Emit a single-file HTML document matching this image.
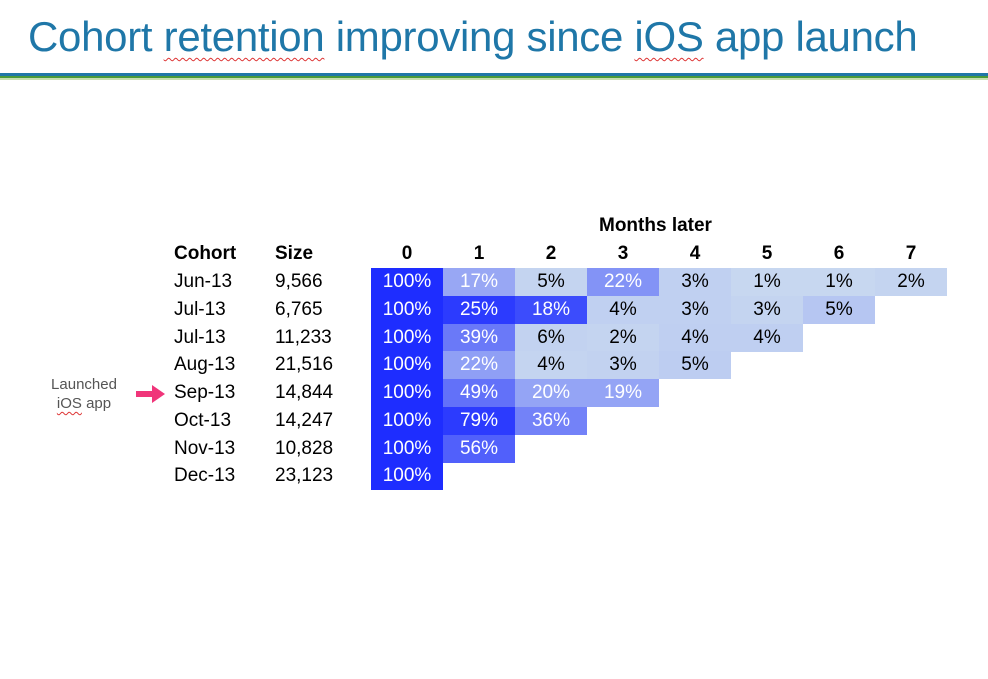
<!DOCTYPE html>
<html><head><meta charset="utf-8"><style>
body{margin:0;width:988px;height:679px;background:#fff;position:relative;overflow:hidden;font-family:"Liberation Sans",sans-serif}
#title{position:absolute;left:28px;top:13px;font-size:42px;color:#1f77a8;letter-spacing:-0.3px;white-space:nowrap}
.u{text-decoration:underline wavy #d33;text-decoration-thickness:1px;text-underline-offset:6px}
.t{position:absolute;font-size:19px;color:#000;white-space:nowrap}
.b{font-weight:bold}
.cell{position:absolute;height:28px;line-height:28px;text-align:center;font-size:19px}
</style></head><body>
<div id="title">Cohort <span class="u">retention</span> improving since <span class="u">iOS</span> app launch</div>
<div style="position:absolute;left:0;top:73px;width:988px;height:3px;background:#1f77a8"></div>
<div style="position:absolute;left:0;top:76px;width:988px;height:2px;background:#4a9a3a"></div>
<div style="position:absolute;left:0;top:78px;width:988px;height:2px;background:#c6dfb0"></div>
<div style="position:absolute;left:44px;top:375px;width:80px;text-align:center;font-size:15px;color:#555;line-height:19px">Launched<br><span class="u" style="text-underline-offset:3px">iOS</span> app</div>
<svg style="position:absolute;left:136px;top:384px" width="30" height="20"><path d="M0 7h16V1l13 9-13 9v-6H0z" fill="#f0357a"/></svg>
<div id="chart"></div>
<script>
const cohorts=["Jun-13","Jul-13","Jul-13","Aug-13","Sep-13","Oct-13","Nov-13","Dec-13"];
const sizes=["9,566","6,765","11,233","21,516","14,844","14,247","10,828","23,123"];
const months=[0,1,2,3,4,5,6,7];
const retention=[
[100,17,5,22,3,1,1,2],
[100,25,18,4,3,3,5],
[100,39,6,2,4,4],
[100,22,4,3,5],
[100,49,20,19],
[100,79,36],
[100,56],
[100]];
const shade=[
[1,0.28,0.02,0.4,0.04,0.0,0.0,0.02],
[1,0.92,0.82,0.04,0.04,0.02,0.1],
[1,0.55,0.03,0.02,0.05,0.05],
[1,0.33,0.02,0.03,0.06],
[1,0.6,0.3,0.3],
[1,0.92,0.5],
[1,0.7],
[1]];
const c=document.getElementById('chart');
const x0=371,cw=72,y0=268,rh=27.75;
const xPos=i=>x0+i*cw, yPos=r=>y0+r*rh;
function mk(cls,txt,l,t,extra){const d=document.createElement('div');d.className=cls;d.textContent=txt;d.style.left=l+'px';d.style.top=t+'px';if(extra)Object.assign(d.style,extra);c.appendChild(d);return d;}
let d=mk('t b','Months later',599,215);


d=mk('t b','Cohort',174,243);


d=mk('t b','Size',275,243);


months.forEach(m=>{const e=mk('t b',String(m),xPos(m),243,{width:cw+'px',textAlign:'center'});

});
cohorts.forEach((co,r)=>{
 let e=mk('t',co,174,yPos(r)+3);
 
 
 e=mk('t',sizes[r],275,yPos(r)+3);
 
 
 retention[r].forEach((v,i)=>{
  const s=shade[r][i];
  const R=Math.round(199-169*s),G=Math.round(215-170*s),B=Math.round(240+15*s);
  const cell=mk('cell',v+'%',xPos(i),yPos(r),{width:cw+'px',background:`rgb(${R},${G},${B})`,color:s>=0.25?'#fff':'#000',height:Math.ceil(rh)+'px'});
  
  
 });
});
</script>
</body></html>
